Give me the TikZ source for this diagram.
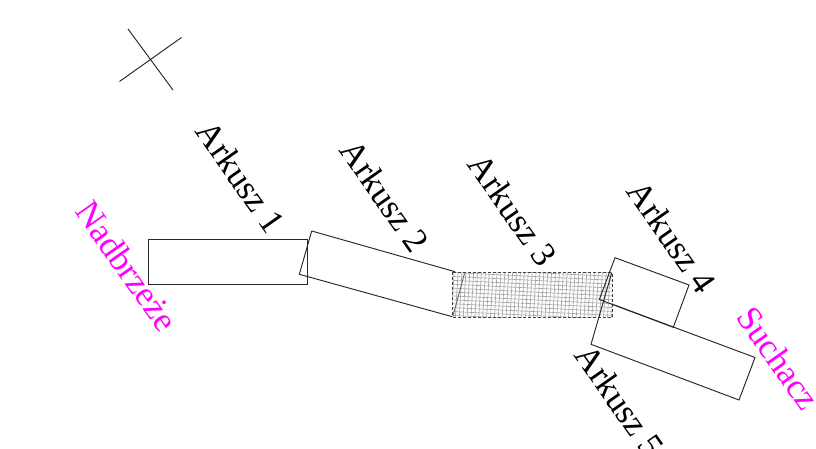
\documentclass[tikz,border=0pt]{standalone}
\usepackage{fontspec}
\setmainfont{Liberation Serif}
\definecolor{shoreColor}{RGB}{255,0,255}
\definecolor{lineColor}{RGB}{40,40,40}
\providecommand*{\xMin}{}
\providecommand*{\xMax}{}
\providecommand*{\yMin}{}
\providecommand*{\yMax}{}
\renewcommand*{\xMin}{452.6}
\renewcommand*{\xMax}{612.2}
\renewcommand*{\yMin}{272.4}
\renewcommand*{\yMax}{317.2}
\tikzset{
  sheet/.style={draw=lineColor,line width=0.95pt,line join=miter},
  sheetlabel/.style={inner sep=0pt,font=\fontsize{35}{35}\selectfont,rotate=-55},
  shorelabel/.style={inner sep=0pt,font=\fontsize{35}{35}\selectfont,rotate=-55,text=shoreColor}
}
\begin{document}
\begin{tikzpicture}[x=1pt,y=-1pt]
  \useasboundingbox (0,0) rectangle (816,449);
  \clip (0,0) rectangle (816,449);
  % north mark
  \coordinate (crossA) at (128,29);
  \coordinate (crossB) at (173,90);
  \coordinate (crossC) at (119.5,81.5);
  \coordinate (crossD) at (181.5,37.5);
  \draw [lineColor,line width=0.95pt] (crossA) -- (crossB);
  \draw [lineColor,line width=0.95pt] (crossC) -- (crossD);
  % sheets
  \draw [sheet] (148,239) rectangle (307,284);
  \draw [sheet] (311.7,231) -- (455,271.7);
  \draw [sheet] (311.7,231) -- (299.3,274.3) -- (452.3,316.7);
  % hatched sheet
  \fill [white] (\xMin,\yMin) rectangle (\xMax,\yMax);
  \begin{scope}
    \clip (\xMin,\yMin) rectangle (\xMax,\yMax);
    \foreach \i in {0,...,46} {
      \draw [gray!70,line width=0.65pt] (\xMin + \i*3.9 - 10,\yMin - 3) -- (\xMin + \i*3.9 - 13,\yMax + 3);
    }
    \foreach \i in {-4,...,14} {
      \draw [gray!70,line width=0.65pt] (\xMin - 3,\yMin + \i*3.9) -- (\xMax + 3,\yMin + \i*3.9 + 8);
    }
  \end{scope}
  \draw [black!75,line width=0.6pt,densely dashed] (\xMin,\yMin) rectangle (\xMax,\yMax);
  \draw [lineColor!70,line width=0.9pt] (452.8,316.5) -- (464.5,273.5);
  \draw [sheet] (599.3,299.5) -- (615,257.7) -- (689,285) -- (673.3,327.3) -- cycle;
  \draw [sheet] (611.7,273) -- (591,344.3) -- (739,400) -- (755,357.5) -- (611.7,304);
  % labels
  \node [sheetlabel] (arkuszA) at (241,177) {Arkusz 1};
  \node [sheetlabel] (arkuszB) at (385,196) {Arkusz 2};
  \node [sheetlabel] (arkuszC) at (513,210) {Arkusz 3};
  \node [sheetlabel] (arkuszD) at (672,237) {Arkusz 4};
  \node [sheetlabel] (arkuszE) at (620,401) {Arkusz 5};
  \node [shorelabel] (nadbrzeze) at (127,266) {Nadbrzeże};
  \node [shorelabel] (suchacz) at (779,358) {Suchacz};
\end{tikzpicture}
\end{document}
